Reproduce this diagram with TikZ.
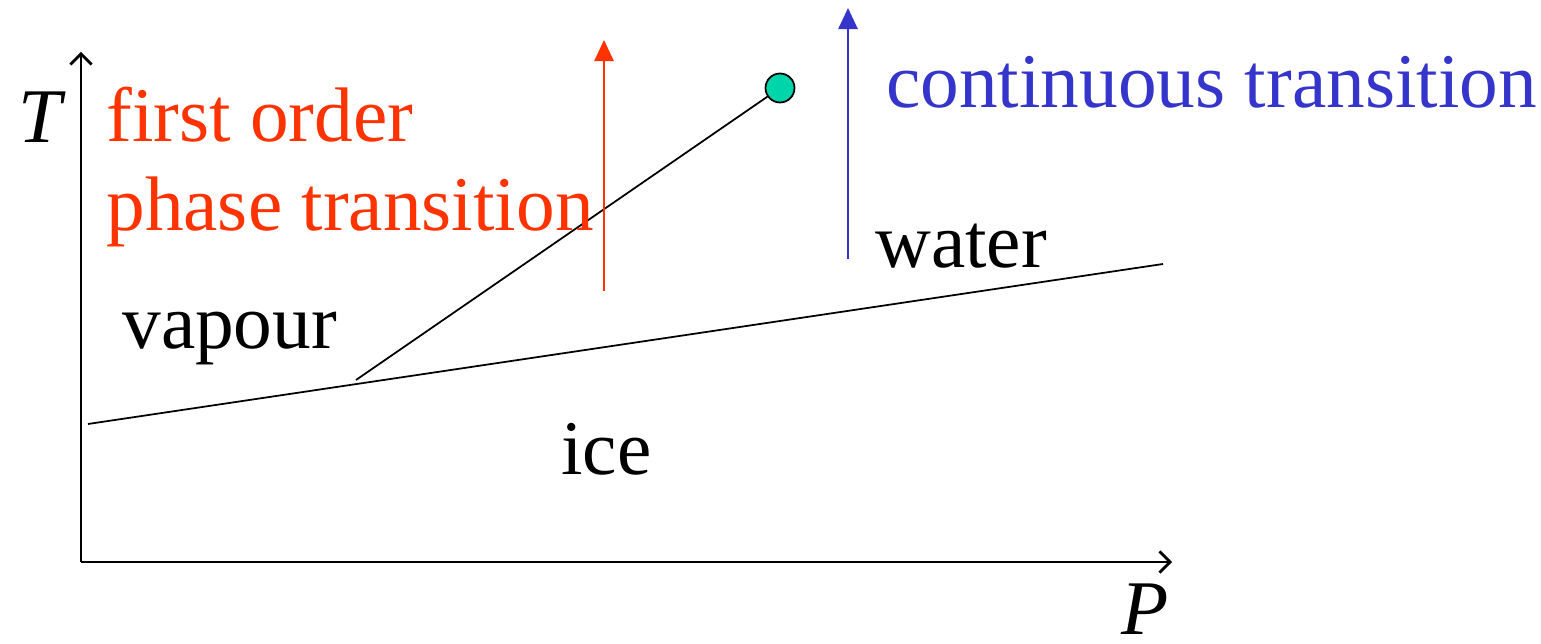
\documentclass[tikz,border=0pt]{standalone}
\usepackage{fontspec}
\setmainfont{LiberationSerif}[Extension=.ttf,UprightFont=*-Regular,ItalicFont=*-Italic,BoldFont=*-Bold]
\usetikzlibrary{arrows.meta,positioning}
\definecolor{FirstRed}{HTML}{FF3300}
\definecolor{ContBlue}{HTML}{3535CC}
\definecolor{CritTeal}{HTML}{00D4AA}

\begin{document}
\begin{tikzpicture}[x=0.02cm,y=-0.02cm,
  axis/.style={line width=1.1pt,-{Straight Barb[length=6pt,width=12pt,line width=1.6pt]}},
  border/.style={line width=1pt},
  path/.style={line width=1pt,-{Triangle[length=12pt,width=11pt]}},
  txt/.style={font=\fontsize{44}{52}\selectfont,anchor=base west,inner sep=0pt},
  crit/.style={circle,draw,line width=1pt,fill=CritTeal,minimum size=0.58cm,inner sep=0pt}
]
\useasboundingbox (0,0) rectangle (1541,644);
% axes
\coordinate (o) at (81,562);
\coordinate (tmax) at (81,52);
\coordinate (pmax) at (1172,562);
\draw[axis] (o) -- (tmax);
\draw[axis] (o) -- (pmax);
\node[txt] (tlab) at (18,143) {\itshape T};
\node[txt] (plab) at (1121,634) {\itshape P};
% phase boundaries
\coordinate (melt0) at (88,424);
\coordinate (melt1) at (1163,264);
\coordinate (boil0) at (356,380);
\node[crit] (cp) at (780,88) {};
\draw[border] (melt0) -- (melt1);
\draw[border] (boil0) -- (cp);
% transitions
\coordinate (fo0) at (604,291);
\coordinate (fo1) at (604,40);
\coordinate (ct0) at (848,259);
\coordinate (ct1) at (848,8);
\draw[path,FirstRed] (fo0) -- (fo1);
\draw[path,ContBlue] (ct0) -- (ct1);
% labels
\node[txt,text=FirstRed] (first) at (106,142) {first order};
\node[txt,text=FirstRed] (phase) at (106,231) {phase transition};
\node[txt,text=ContBlue] (cont) at (886,108) {continuous transition};
\node[txt] (water) at (875,268) {water};
\node[txt] (vapour) at (122,349) {vapour};
\node[txt] (ice) at (561,475) {ice};
\end{tikzpicture}
\end{document}
